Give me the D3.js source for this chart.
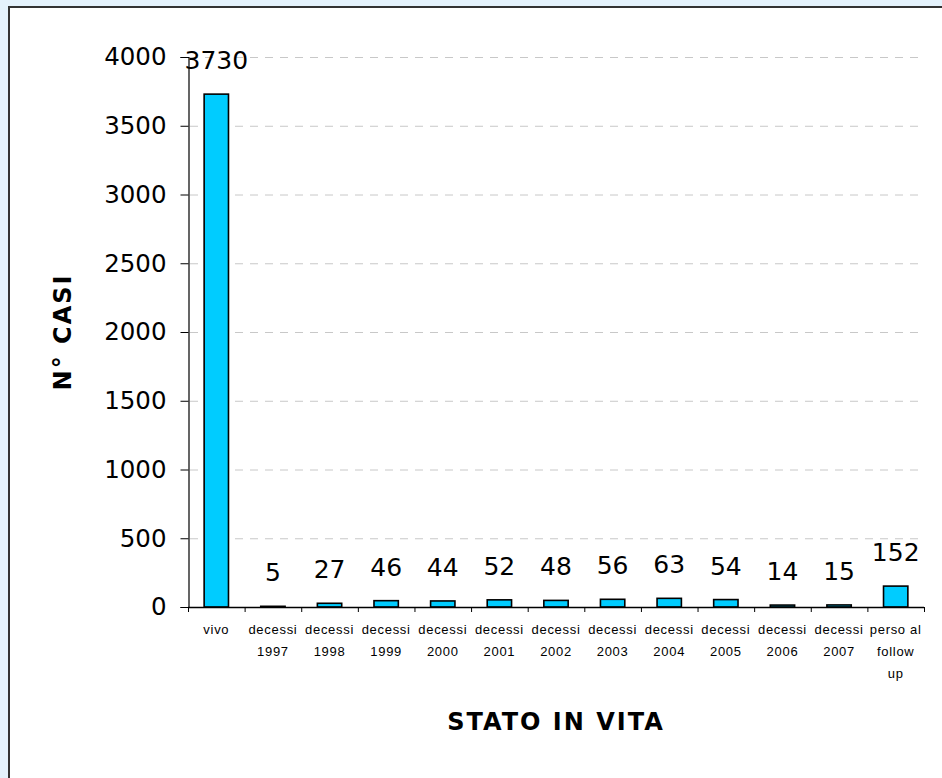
<!DOCTYPE html>
<html>
<head>
<meta charset="utf-8">
<script src="https://cdn.jsdelivr.net/npm/d3@7"></script>
<style>
  html, body { margin: 0; padding: 0; }
  body { width: 942px; height: 778px; background: #e4f2fc; overflow: hidden; }
  #chart { position: absolute; left: 0; top: 0; }
</style>
</head>
<body>
<div id="chart"></div>
<script>

// categories (multi-line labels) and values
var categories = ["vivo", "decessi 1997", "decessi 1998", "decessi 1999", "decessi 2000", "decessi 2001",
                  "decessi 2002", "decessi 2003", "decessi 2004", "decessi 2005", "decessi 2006", "decessi 2007", "perso al follow up"];
var categoryLines = [["vivo"], ["decessi", "1997"], ["decessi", "1998"], ["decessi", "1999"], ["decessi", "2000"],
                     ["decessi", "2001"], ["decessi", "2002"], ["decessi", "2003"], ["decessi", "2004"], ["decessi", "2005"],
                     ["decessi", "2006"], ["decessi", "2007"], ["perso al", "follow", "up"]];
var values = [3730, 5, 27, 46, 44, 52, 48, 56, 63, 54, 14, 15, 152];
var yTicks = [0, 500, 1000, 1500, 2000, 2500, 3000, 3500, 4000];

var width = 942, height = 778;
var x0 = 188, x1 = 924, yTop = 57, yBase = 607;

var svg = d3.select("#chart").append("svg")
    .attr("width", width)
    .attr("height", height);

// white frame with dark border on top/left
svg.append("rect")
    .attr("x", 9).attr("y", 7)
    .attr("width", width).attr("height", height)
    .attr("fill", "#ffffff")
    .attr("stroke", "#333333")
    .attr("stroke-width", 2);

var x = d3.scaleBand()
    .domain(categories)
    .range([x0, x1])
    .paddingInner(0.57)
    .paddingOuter(0.285);

var y = d3.scaleLinear()
    .domain([0, 4000])
    .range([yBase, yTop]);

// gridlines
svg.append("g")
    .selectAll("line")
    .data(yTicks.filter(function(d) { return d > 0; }))
  .enter().append("line")
    .attr("x1", x0 + 2)
    .attr("x2", x1 - 6)
    .attr("y1", function(d) { return y(d) + 0.5; })
    .attr("y2", function(d) { return y(d) + 0.5; })
    .attr("stroke", "#c8c8c8")
    .attr("stroke-width", 1)
    .attr("stroke-dasharray", "8,7");

// y axis
var yAxis = d3.axisLeft(y)
    .tickValues(yTicks)
    .tickSize(8)
    .tickPadding(14)
    .tickFormat(d3.format("d"));

var gy = svg.append("g")
    .attr("transform", "translate(" + (x0 + 0.5) + ",0)")
    .call(yAxis);
gy.select(".domain").attr("stroke", "#000").attr("stroke-width", 1.2);
gy.selectAll(".tick line").attr("stroke", "#000");
gy.selectAll(".tick text")
    .attr("font-family", "DejaVu Sans, Verdana, sans-serif")
    .attr("font-size", "24.5px")
    .attr("fill", "#000");

// bars
svg.append("g")
    .selectAll("rect")
    .data(values)
  .enter().append("rect")
    .attr("x", function(d, i) { return x(categories[i]); })
    .attr("y", function(d) { return y(d); })
    .attr("width", x.bandwidth())
    .attr("height", function(d) { return Math.max(0, yBase - y(d)); })
    .attr("fill", "#00ccff")
    .attr("stroke", "#000")
    .attr("stroke-width", 1.6);

// x axis line and category separator ticks
svg.append("line")
    .attr("x1", x0).attr("x2", x1)
    .attr("y1", yBase + 0.5).attr("y2", yBase + 0.5)
    .attr("stroke", "#000").attr("stroke-width", 1.4);

var bounds = d3.range(categories.length + 1).map(function(i) { return x0 + i * x.step(); });
svg.append("g")
    .selectAll("line")
    .data(bounds)
  .enter().append("line")
    .attr("x1", function(d) { return d + 0.5; })
    .attr("x2", function(d) { return d + 0.5; })
    .attr("y1", yBase)
    .attr("y2", yBase + 5)
    .attr("stroke", "#000");

// x labels
var xl = svg.append("g")
    .selectAll("text")
    .data(categoryLines)
  .enter().append("text")
    .attr("text-anchor", "middle")
    .attr("font-family", "Liberation Sans, Arial, sans-serif")
    .attr("font-size", "13px")
    .attr("letter-spacing", "0.7px")
    .attr("fill", "#000")
    .attr("transform", function(d, i) { return "translate(" + (x(categories[i]) + x.bandwidth() / 2) + ",634)"; });

xl.selectAll("tspan")
    .data(function(d) { return d; })
  .enter().append("tspan")
    .attr("x", 0)
    .attr("y", function(d, i) { return i * 22; })
    .text(function(d) { return d; });

// value labels
svg.append("g")
    .selectAll("text")
    .data(values)
  .enter().append("text")
    .attr("x", function(d, i) { return x(categories[i]) + x.bandwidth() / 2; })
    .attr("y", function(d) { return y(d) - 25; })
    .attr("text-anchor", "middle")
    .attr("font-family", "Comic Sans MS, DejaVu Sans, sans-serif")
    .attr("font-size", "25px")
    .attr("fill", "#000")
    .text(function(d) { return d; });

// axis titles
svg.append("text")
    .attr("transform", "translate(71,332) rotate(-90)")
    .attr("text-anchor", "middle")
    .attr("font-family", "Comic Sans MS, DejaVu Sans, sans-serif")
    .attr("font-weight", "bold")
    .attr("font-size", "24px")
    .attr("letter-spacing", "2px")
    .attr("fill", "#000")
    .text("N° CASI");

svg.append("text")
    .attr("x", 556)
    .attr("y", 730)
    .attr("text-anchor", "middle")
    .attr("font-family", "Comic Sans MS, DejaVu Sans, sans-serif")
    .attr("font-weight", "bold")
    .attr("font-size", "24px")
    .attr("letter-spacing", "2px")
    .attr("fill", "#000")
    .text("STATO IN VITA");

</script>
</body>
</html>
